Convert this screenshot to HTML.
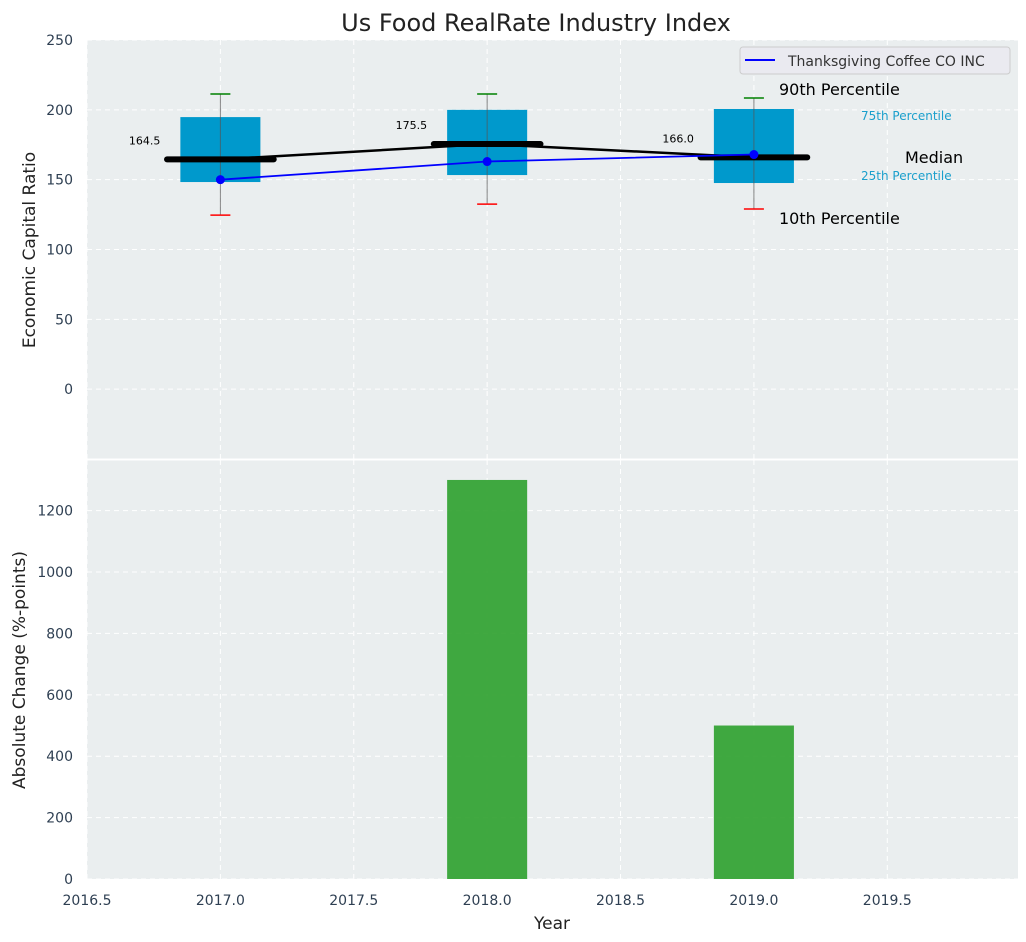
<!DOCTYPE html>
<html><head><meta charset="utf-8"><style>
body{margin:0;background:#fff;}
svg{display:block;font-family:"DejaVu Sans","Liberation Sans",sans-serif;}
</style></head><body>
<svg id="chart" width="1026" height="942"></svg>
<script>
const years=[2017,2018,2019];
const p10=[124.6,132.5,129];
const q1=[148.3,153.3,147.6];
const med=[164.5,175.5,166.0];
const q3=[194.8,200,200.6];
const p90=[211.3,211.3,208.5];
const company=[150,163,168];
const changes=[0,1300,500];
const xTicks=[2016.5,2017,2017.5,2018,2018.5,2019,2019.5];
const yTopTicks=[0,50,100,150,200,250];
const yBotTicks=[0,200,400,600,800,1000,1200];

const NS="http://www.w3.org/2000/svg";
const svg=document.getElementById('chart');
function el(t,a,txt){const e=document.createElementNS(NS,t);for(const k in a)e.setAttribute(k,a[k]);if(txt!==undefined)e.textContent=txt;svg.appendChild(e);return e;}
const L=87,R=1018;
const X=v=>L+(v-2016.5)/(2019.99-2016.5)*(R-L);
const T0=40,T1=459,B0=460,B1=879;
const YT=v=>T1-(v+50)/300*(T1-T0);
const YB=v=>B1-v/1365*(B1-B0);

let e;
e=el('rect',{x:L,y:T0,width:R-L,height:T1-T0,fill:'#eaeeef'});

e=el('rect',{x:L,y:B0,width:R-L,height:B1-B0,fill:'#eaeeef'});


// grid
xTicks.forEach(t=>{
 [[T0,T1],[B0,B1]].forEach(r=>{e=el('line',{x1:X(t),x2:X(t),y1:r[0],y2:r[1],stroke:'#fff','stroke-dasharray':'5,4','stroke-width':1});
 });
 e=el('text',{x:X(t),y:905,'text-anchor':'middle','font-size':14,fill:'#2e3f52'},t.toFixed(1));
 
});
yTopTicks.forEach(t=>{
 e=el('line',{x1:L,x2:R,y1:YT(t),y2:YT(t),stroke:'#fff','stroke-dasharray':'5,4'});
 
 e=el('text',{x:73,y:YT(t)+5,'text-anchor':'end','font-size':14,fill:'#2e3f52'},t);
 
});
yBotTicks.forEach(t=>{
 e=el('line',{x1:L,x2:R,y1:YB(t),y2:YB(t),stroke:'#fff','stroke-dasharray':'5,4'});
 
 e=el('text',{x:73,y:YB(t)+5,'text-anchor':'end','font-size':14,fill:'#2e3f52'},t);
 
});
e=el('line',{x1:L,x2:R,y1:459.5,y2:459.5,stroke:'#fff','stroke-width':2});


// boxes
years.forEach((y,i)=>{
 const cx=X(y),hw=X(y+0.15)-cx;
 e=el('rect',{x:cx-hw,y:YT(q3[i]),width:2*hw,height:YT(q1[i])-YT(q3[i]),fill:'#0099cc'});
 
 e=el('line',{x1:cx,x2:cx,y1:YT(p90[i]),y2:YT(p10[i]),stroke:'#555','stroke-width':1,opacity:0.7});
 
 e=el('line',{x1:cx-10,x2:cx+10,y1:YT(p90[i]),y2:YT(p90[i]),stroke:'green','stroke-width':1.5});
 
 e=el('line',{x1:cx-10,x2:cx+10,y1:YT(p10[i]),y2:YT(p10[i]),stroke:'red','stroke-width':1.5});
 
});
// median connecting line
e=el('polyline',{points:years.map((y,i)=>X(y)+','+YT(med[i])).join(' '),fill:'none',stroke:'#000','stroke-width':2.5});

years.forEach((y,i)=>{
 e=el('line',{x1:X(y-0.2),x2:X(y+0.2),y1:YT(med[i]),y2:YT(med[i]),stroke:'#000','stroke-width':6,'stroke-linecap':'round'});
 
 e=el('text',{x:X(y)-60,y:YT(med[i])-15,'text-anchor':'end','font-size':11,fill:'#000'},med[i].toFixed(1));
 
});
// company line
e=el('polyline',{points:years.map((y,i)=>X(y)+','+YT(company[i])).join(' '),fill:'none',stroke:'blue','stroke-width':1.8});

years.forEach((y,i)=>{e=el('circle',{cx:X(y),cy:YT(company[i]),r:4.5,fill:'blue'});
 });

// annotations
[['90th Percentile',779,95,16,'#000'],['75th Percentile',861,120,12,'#1a9fcc'],['Median',905,163,16,'#000'],['25th Percentile',861,180,12,'#1a9fcc'],['10th Percentile',779,224,16,'#000']].forEach(a=>{
 e=el('text',{x:a[1],y:a[2],'font-size':a[3],fill:a[4]},a[0]);
 
});

// legend
e=el('rect',{x:740,y:47,width:270,height:27,rx:3,fill:'#eaeaf0',stroke:'#ccc'});

e=el('line',{x1:745,x2:775,y1:60,y2:60,stroke:'blue','stroke-width':2});

e=el('text',{x:788,y:66,'font-size':14,fill:'#333'},'Thanksgiving Coffee CO INC');


// bars
years.forEach((y,i)=>{
 const x0=X(y-0.15),x1=X(y+0.15);
 e=el('rect',{x:x0,y:YB(changes[i]),width:x1-x0,height:B1-YB(changes[i]),fill:'#2ca02c',opacity:0.9});
 
});

// titles
e=el('text',{x:536,y:31,'text-anchor':'middle','font-size':24,fill:'#222'},'Us Food RealRate Industry Index');

e=el('text',{x:552,y:929,'text-anchor':'middle','font-size':17,fill:'#222'},'Year');

e=el('text',{x:0,y:0,'text-anchor':'middle','font-size':17,fill:'#222',transform:'translate(35,250) rotate(-90)'},'Economic Capital Ratio');

e=el('text',{x:0,y:0,'text-anchor':'middle','font-size':17,fill:'#222',transform:'translate(25,670) rotate(-90)'},'Absolute Change (%-points)');

</script>
</body></html>
